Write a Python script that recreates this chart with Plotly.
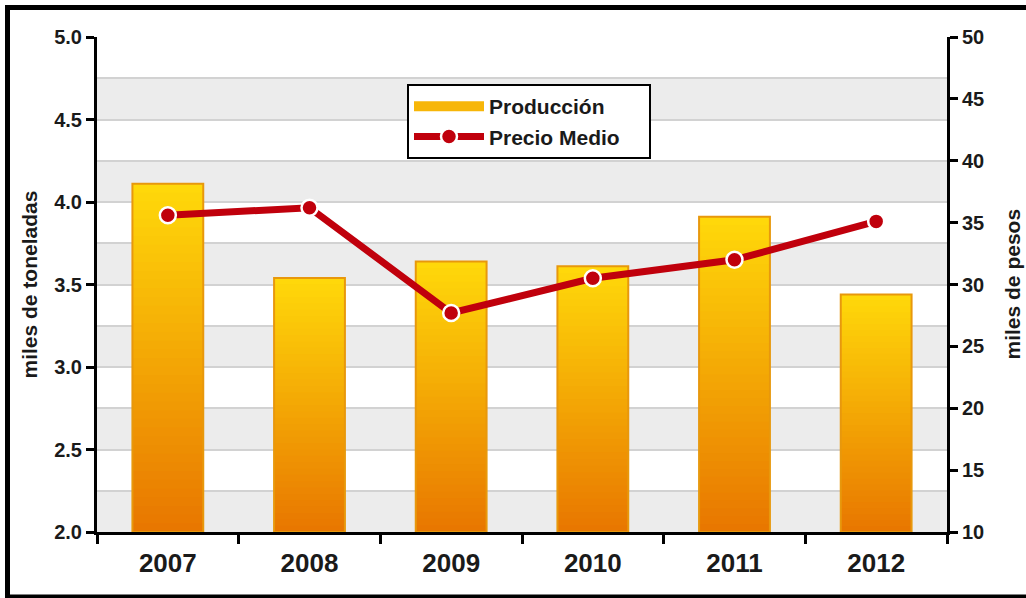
import plotly.graph_objects as go

years = ["2007", "2008", "2009", "2010", "2011", "2012"]
produccion = [4.11, 3.54, 3.64, 3.61, 3.91, 3.44]
precio_medio = [35.6, 36.2, 27.7, 30.5, 32.0, 35.1]

y1_range = [2.0, 5.0]
y2_range = [10, 50]

FONT = "Liberation Sans, Arial, sans-serif"
N = 40
top_rgb = (255, 217, 10)
bot_rgb = (232, 118, 0)

fig = go.Figure()

# gradient bars: overlapping bars from the base, tallest (top colour) first
for k in range(N):
    frac = (N - k) / N
    t = (N - k - 0.5) / N
    c = tuple(round(bot_rgb[i] + (top_rgb[i] - bot_rgb[i]) * t) for i in range(3))
    h = [(v - y1_range[0]) * frac for v in produccion]
    fig.add_trace(go.Bar(x=years, y=h, base=y1_range[0], width=0.5,
                         marker=dict(color="rgb(%d,%d,%d)" % c, line=dict(width=0)),
                         showlegend=False, hoverinfo="skip"))

# outline
fig.add_trace(go.Bar(x=years, y=[v - y1_range[0] for v in produccion], base=y1_range[0],
                     width=0.5, name="Producción",
                     marker=dict(color="rgba(0,0,0,0)", line=dict(color="#e8980c", width=2)),
                     showlegend=False))
# legend swatch for Producción
fig.add_trace(go.Scatter(x=[None], y=[None], mode="lines", name="Producción",
                         line=dict(color="#f7b608", width=15)))

fig.add_trace(go.Scatter(x=years, y=precio_medio, yaxis="y2", mode="lines+markers",
                         name="Precio Medio" + "\u00a0" * 4,
                         line=dict(color="#c0000c", width=7),
                         marker=dict(size=16, color="#c0000c", line=dict(color="white", width=2.5))))

shapes = []
b = y1_range[0]
while b < y1_range[1] - 0.3:
    shapes.append(dict(type="rect", xref="paper", yref="y", x0=0, x1=1, y0=b, y1=b + 0.25,
                       fillcolor="#ececec", line=dict(width=0), layer="below"))
    b += 0.5
shapes.append(dict(type="rect", xref="paper", yref="paper",
                   x0=(7.5 - 97) / 850, x1=(1032 - 97) / 850,
                   y0=(532 - 597) / 495, y1=(532 - 7.5) / 495,
                   line=dict(color="black", width=5), fillcolor="rgba(0,0,0,0)"))

annotations = [
    dict(text="miles de toneladas", xref="paper", yref="paper", x=(29 - 97) / 850, y=0.5,
         textangle=-90, showarrow=False, xanchor="center", yanchor="middle",
         font=dict(size=21, family=FONT, weight="bold", color="#1a1a1a")),
    dict(text="miles de pesos", xref="paper", yref="paper", x=(1012 - 97) / 850, y=0.5,
         textangle=-90, showarrow=False, xanchor="center", yanchor="middle",
         font=dict(size=21, family=FONT, weight="bold", color="#1a1a1a")),
]

fig.update_layout(
    width=1026, height=598,
    margin=dict(l=97, r=79, t=37, b=66),
    paper_bgcolor="white", plot_bgcolor="white",
    barmode="overlay", bargap=0.5,
    font=dict(family=FONT, color="#1a1a1a", weight="bold"),
    shapes=shapes, annotations=annotations,
    xaxis=dict(type="category", showline=True, linecolor="black", linewidth=3,
               ticks="outside", tickson="boundaries", ticklen=9, tickwidth=3, tickcolor="black",
               ticklabelstandoff=6,
               tickfont=dict(size=26, family=FONT, weight="bold"), showgrid=False),
    yaxis=dict(range=y1_range, dtick=0.5, tickformat=".1f", showline=True, linecolor="black",
               linewidth=3, ticks="outside", ticklen=8, tickwidth=3, tickcolor="black",
               tickfont=dict(size=20, family=FONT, weight="bold"),
               showgrid=True, gridcolor="#d2d2d2", gridwidth=1.5,
               minor=dict(dtick=0.25, showgrid=True, gridcolor="#d2d2d2", gridwidth=1.5),
               zeroline=False),
    yaxis2=dict(range=y2_range, dtick=5, overlaying="y", side="right", showline=True,
                linecolor="black", linewidth=3, ticks="outside", ticklen=8, tickwidth=3,
                tickcolor="black", showgrid=False, zeroline=False,
                tickfont=dict(size=20, family=FONT, weight="bold")),
    legend=dict(x=(407 - 97) / 850, y=(532 - 84) / 495, xanchor="left", yanchor="top",
                bgcolor="white", bordercolor="black", borderwidth=2,
                font=dict(size=21, family=FONT, weight="bold"),
                itemwidth=70, tracegroupgap=2),
)

fig.write_html("out.html", config={"displayModeBar": False},
               post_script="document.body.style.margin='0';document.body.style.overflow='hidden';")
